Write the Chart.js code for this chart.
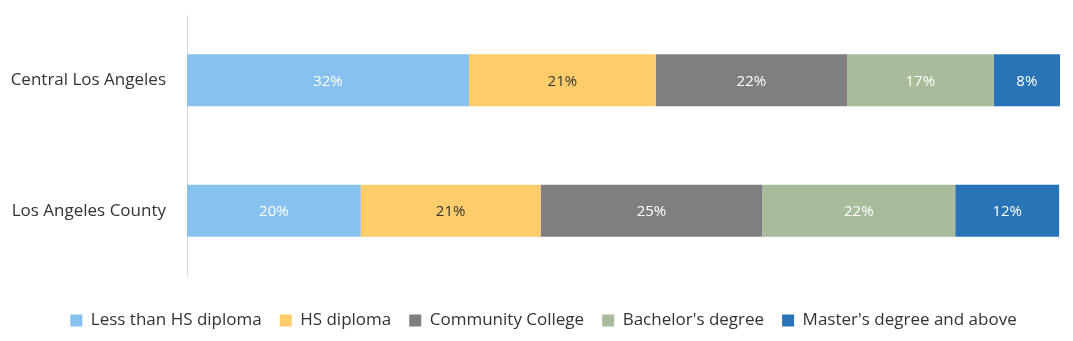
<!DOCTYPE html>
<html>
<head>
<meta charset="utf-8">
<script src="https://cdn.jsdelivr.net/npm/chart.js@4"></script>
<style>
  html, body { margin: 0; padding: 0; background: #fff; }
  #wrap { width: 1073px; height: 341px; }
</style>
</head>
<body>
<div id="wrap"><canvas id="graf"></canvas></div>
<script>
// data
var oblasti = ["Central Los Angeles", "Los Angeles County"];
var skupiny = ["Less than HS diploma", "HS diploma", "Community College", "Bachelor's degree", "Master's degree and above"];
var mene = [32.3, 19.9];
var stredni = [21.4, 20.6];
var komunitni = [21.9, 25.4];
var bakalar = [16.8, 22.1];
var magistr = [7.6, 11.9];
var barvy = ["#87C2EE", "#FDCD6B", "#7F7F7F", "#A8BC9C", "#2874B6"];
var barvyTextu = ["#ffffff", "#333333", "#ffffff", "#ffffff", "#ffffff"];

var hodnoty = [mene, stredni, komunitni, bakalar, magistr];
var datasets = [];
for (var i = 0; i < skupiny.length; i++) {
  datasets.push({
    label: skupiny[i],
    data: hodnoty[i],
    backgroundColor: barvy[i],
    borderWidth: 0,
    barPercentage: 0.4,
    categoryPercentage: 1
  });
}

// popisky v pruzich
var popisky = {
  id: "popisky",
  afterDatasetsDraw: function (chart) {
    var ctx = chart.ctx;
    ctx.save();
    ctx.font = "15px 'Open Sans'";
    ctx.textAlign = "center";
    ctx.textBaseline = "middle";
    chart.data.datasets.forEach(function (ds, di) {
      var meta = chart.getDatasetMeta(di);
      meta.data.forEach(function (bar, j) {
        ctx.fillStyle = barvyTextu[di];
        var x = (bar.x + bar.base) / 2;
        ctx.fillText(Math.round(ds.data[j]) + "%", x, bar.y + 1);
      });
    });
    ctx.restore();
  }
};

// posun legendy doprava
var posunLegendy = {
  id: "posunLegendy",
  afterLayout: function (chart) {
    if (chart.legend) {
      chart.legend.left += 27;
    }
  }
};

var graf = document.getElementById("graf").getContext("2d");
var SF = new Chart(graf, {
  type: "bar",
  data: { labels: oblasti, datasets: datasets },
  plugins: [popisky, posunLegendy],
  options: {
    indexAxis: "y",
    responsive: true,
    maintainAspectRatio: false,
    animation: false,
    layout: { padding: { top: 15, right: 13, left: 0, bottom: 2 } },
    scales: {
      x: { stacked: true, min: 0, max: 100, display: false },
      y: {
        stacked: true,
        grid: { display: false, drawTicks: false },
        border: { display: true, color: "#d9d9d9", width: 1 },
        ticks: { color: "#333333", font: { family: "'Open Sans'", size: 17 }, padding: 21 },
        afterFit: function (s) {
          s.width = 187;
          s.paddingTop = 0;
          s.paddingBottom = 0;
        }
      }
    },
    plugins: {
      legend: {
        position: "bottom",
        title: { display: true, text: "", font: { size: 1, lineHeight: 1 }, padding: { top: 17, bottom: 0 } },
        labels: {
          color: "#333333",
          font: { family: "'Open Sans'", size: 17 },
          boxWidth: 12,
          boxHeight: 12,
          padding: 18
        }
      },
      tooltip: { enabled: false }
    }
  }
});
</script>
</body>
</html>
